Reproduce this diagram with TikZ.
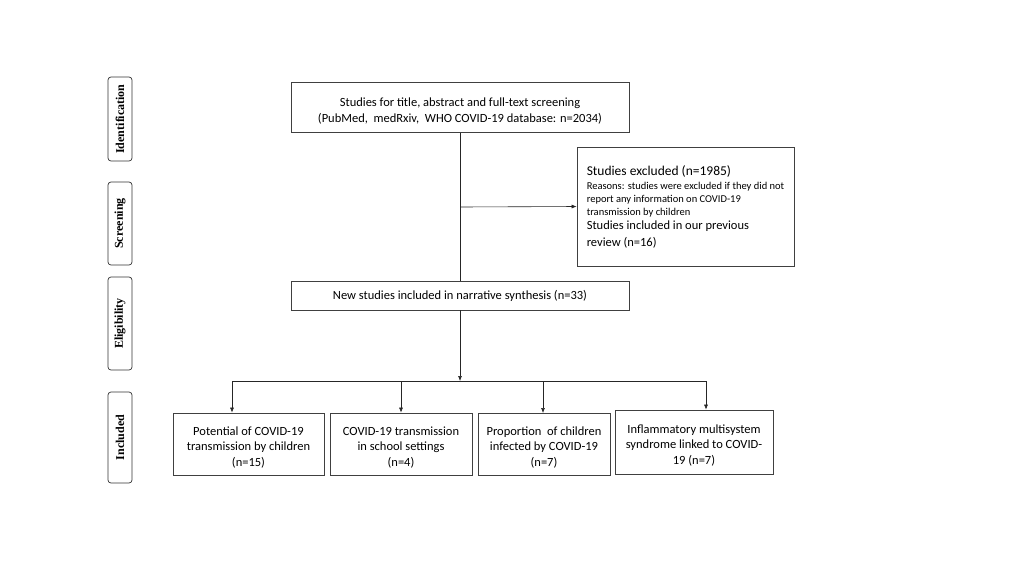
\documentclass[tikz,border=0pt]{standalone}
\usepackage{fontspec}
\setmainfont{Carlito}
\newfontfamily\sidefont{Liberation Serif}
\usetikzlibrary{arrows.meta,positioning}
\newcommand{\pushdown}{\rule{0pt}{15.5pt}}
\begin{document}
\begin{tikzpicture}[x=1pt,y=-1pt,
  box/.style={draw=black!75,line width=0.7pt,align=center,inner sep=2pt,font=\fontsize{12.5}{15.5}\selectfont},
  side/.style={draw=black!80,line width=0.7pt,rounded corners=3pt,rotate=90,inner sep=0pt,font=\sidefont\bfseries\fontsize{12}{13}\selectfont},
  conn/.style={line width=0.6pt,draw=black!85},
  arr/.style={conn,-{Latex[length=5pt,width=4pt]}}]
\useasboundingbox (0,0) rectangle (1024,576);
% side labels
\node[side,minimum width=84,minimum height=24] (sid) at (120,119) {Identification};
\node[side,minimum width=83,minimum height=24] (ssc) at (120,223.5) {Screening};
\node[side,minimum width=93,minimum height=24] (sel) at (120,323.5) {Eligibility};
\node[side,minimum width=91,minimum height=24] (sin) at (120,437.5) {Included};
% main boxes
\node[box,minimum width=338,minimum height=50,font=\fontsize{12.5}{16}\selectfont] (top) at (460,107.5) {\pushdown Studies for title, abstract and full-text screening\\(PubMed,\ \ medRxiv,\ \ WHO COVID-19 database: n=2034)};
\node[box,minimum width=217,minimum height=119,align=left,inner sep=4pt,font=\fontsize{10.5}{13}\selectfont] (exc) at (685.5,206.5) {\fontsize{13.5}{13}\selectfont Studies excluded (n=1985)\\[1pt]\fontsize{10.5}{13}\selectfont Reasons: studies were excluded if they did not\\\fontsize{10.5}{13}\selectfont report any information on COVID-19\\\fontsize{10.5}{13}\selectfont transmission by children\\[1pt]\fontsize{12.5}{13}\selectfont Studies included in our previous\\[4pt]\fontsize{12.5}{13}\selectfont review (n=16)};
\node[box,minimum width=338,minimum height=29] (new) at (460,295.5) {New studies included in narrative synthesis (n=33)};
% bottom boxes
\node[box,minimum width=151,minimum height=62] (b1) at (248.5,444) {\pushdown Potential of COVID-19\\transmission by children\\(n=15)};
\node[box,minimum width=142,minimum height=62] (b2) at (401,444) {\pushdown COVID-19 transmission\\in school settings\\(n=4)};
\node[box,minimum width=132,minimum height=62] (b3) at (544,444) {\pushdown Proportion\ \ of children\\infected by COVID-19\\(n=7)};
\node[box,minimum width=158,minimum height=64] (b4) at (694,442) {\pushdown Inflammatory multisystem\\syndrome linked to COVID-\\19 (n=7)};
% connectors
\coordinate (split) at (460,207);
\coordinate (hub) at (460,381);
\coordinate (hl) at (232,381);
\coordinate (hr) at (706,381);
\draw[conn] (top.south) -- (new.north);
\draw[arr] (split) -- (exc.west);
\draw[arr] (new.south) -- (hub);
\draw[conn] (hl) -- (hr);
\draw[arr] (hl) -- (hl |- b1.north);
\draw[arr] (401,381) -- (b2.north);
\draw[arr] (543,381) -- (543,413);
\draw[arr] (hr) -- (hr |- b4.north);
\end{tikzpicture}
\end{document}
